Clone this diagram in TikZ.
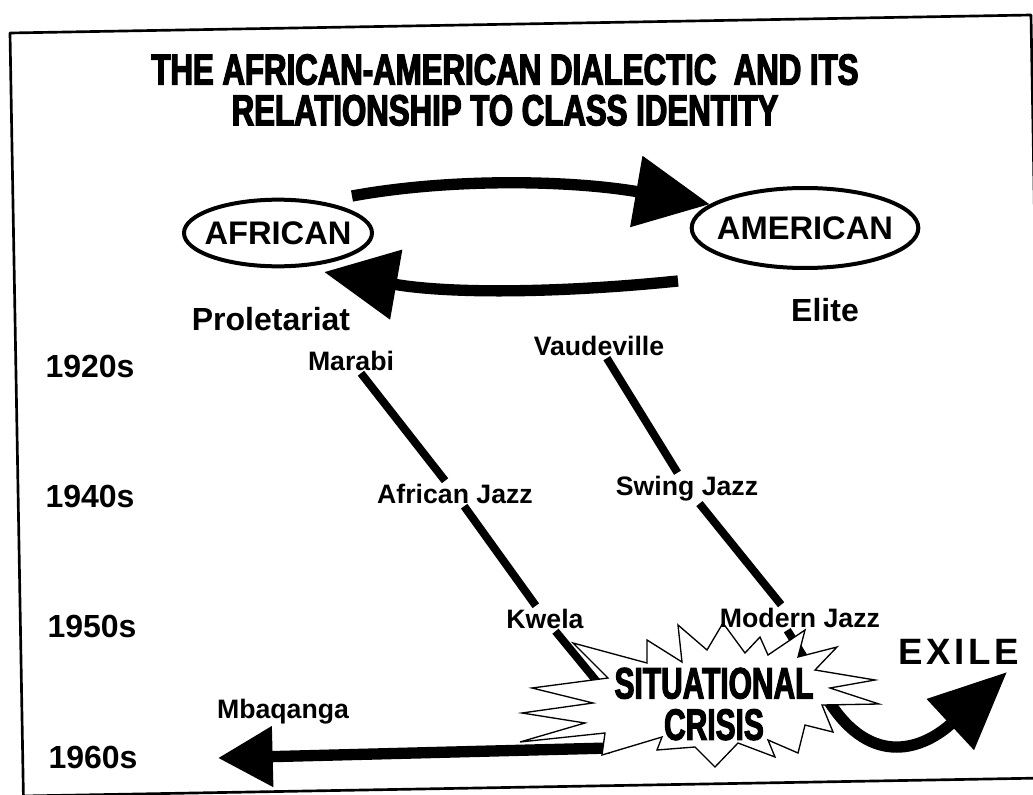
\documentclass[tikz,border=0pt]{standalone}
\usepackage{fontspec}
\setmainfont{Liberation Sans}
\newfontfamily\titlefont[FakeStretch=0.72,FakeBold=3]{Liberation Sans Bold}
\newfontfamily\crisisfont[FakeStretch=0.68,FakeBold=2.5]{Liberation Sans Bold}
\newfontfamily\exilefont[LetterSpace=10]{Liberation Sans Bold}
\usetikzlibrary{arrows.meta, shapes.geometric, backgrounds}

\tikzset{
  frame/.style={line width=2pt, line join=round},
  title/.style={font=\titlefont\fontsize{32.5}{30.5}\selectfont, align=center},
  oval/.style={ellipse, draw, line width=3pt, inner sep=0pt},
  ovaltext/.style={font=\bfseries\fontsize{24.5}{28}\selectfont},
  era/.style={font=\bfseries\fontsize{24}{28}\selectfont, anchor=base},
  classlab/.style={font=\bfseries\fontsize{24}{28}\selectfont, anchor=base},
  genre/.style={font=\bfseries\fontsize{20}{24}\selectfont, anchor=base, inner sep=2pt},
  crisis/.style={font=\crisisfont\fontsize{33}{31}\selectfont, align=center},
  bigarrow/.style={line width=8.5pt},
  link/.style={line width=6pt},
  burst/.style={draw, fill=white, line width=1pt, line join=miter},
}

\begin{document}
\begin{tikzpicture}[x=0.75pt, y=-0.75pt]
\useasboundingbox (0,0) rectangle (1033,795);

% scanned page border
\draw [frame] (10,33) -- (1031,15) -- (1044.4,778) -- (23.4,796) -- cycle;

\node [title] (title) at (505,90) {THE AFRICAN-AMERICAN DIALECTIC\ \ AND ITS\\RELATIONSHIP TO CLASS IDENTITY};

\node [oval, minimum width=141pt, minimum height=50pt,
       label={[ovaltext]center:AFRICAN}] (african) at (278,233) {};
\node [oval, minimum width=170pt, minimum height=60pt,
       label={[ovaltext]center:AMERICAN}] (american) at (805,228) {};

\node [classlab] (proletariat) at (271,330) {Proletariat};
\node [classlab] (elite) at (825,322) {Elite};

\node [era] (era1920) at (90,378) {1920s};
\node [era] (era1940) at (90,507) {1940s};
\node [era] (era1950) at (92,637) {1950s};
\node [era] (era1960) at (93,768) {1960s};

\node [genre] (marabi) at (351,370) {Marabi};
\node [genre] (vaudeville) at (599,355) {Vaudeville};
\node [genre] (afjazz) at (455,503) {African Jazz};
\node [genre] (swing) at (687,495) {Swing Jazz};
\node [genre] (kwela) at (545,628) {Kwela};
\node [genre] (modjazz) at (800,627) {Modern Jazz};
\node [genre] (mbaqanga) at (283,718) {Mbaqanga};

\node [font=\exilefont\fontsize{27.5}{30}\selectfont, anchor=base] (exile) at (959,664) {EXILE};

\node [crisis] (crisis) at (714,704) {SITUATIONAL\\CRISIS};

\coordinate (toptail) at (352,196);
\coordinate (bottail) at (678,281);
\coordinate (bottip) at (324,272);
\coordinate (kwelaend) at (612,700);
\coordinate (modjazzend) at (807,662);
\coordinate (exilestart) at (828,700);
\coordinate (exiletip) at (1007,672);
\coordinate (mbqstart) at (610,748);
\coordinate (mbqtip) at (218,758);

\begin{pgfonlayer}{background}
% dialectic arrows
\draw [bigarrow, -{Triangle[length=56pt, width=52pt]}]
      (toptail) .. controls (450,178) and (570,180) .. (american.166);
\draw [bigarrow, -{Triangle[length=55pt, width=51pt]}]
      (bottail) .. controls (560,293) and (450,294) .. (bottip);

% lines of descent
\draw [link] (marabi) -- (afjazz);
\draw [link] (vaudeville) -- (swing);
\draw [link] (afjazz) -- (kwela);
\draw [link] (kwela) -- (kwelaend);
\draw [link] (swing) -- (modjazz.146);
\draw [link] (modjazz.225) -- (modjazzend);

% ways out of the crisis
\draw [bigarrow, -{Triangle[length=41pt, width=43.5pt]}] (mbqstart) -- (mbqtip);
\draw [bigarrow, -{Triangle[length=58pt, width=50pt]}]
      (exilestart) .. controls (872,770) and (925,748) .. (exiletip);

\draw [burst] (573,643) -- (647,663) -- (647,640) -- (682,662) -- (678,625)
      -- (707,650) -- (723,623) -- (745,653) -- (760,637) -- (768,655)
      -- (805,630) -- (798,657) -- (837,647) -- (815,670) -- (875,680)
      -- (830,688) -- (879,704) -- (822,705) -- (833,732) -- (805,725)
      -- (798,753) -- (768,740) -- (775,757) -- (738,743) -- (715,767)
      -- (695,747) -- (657,750) -- (662,737) -- (602,755) -- (605,733)
      -- (520,742) -- (585,723) -- (522,713) -- (593,703) -- (532,688)
      -- (608,678) -- cycle;
\end{pgfonlayer}

\end{tikzpicture}
\end{document}
